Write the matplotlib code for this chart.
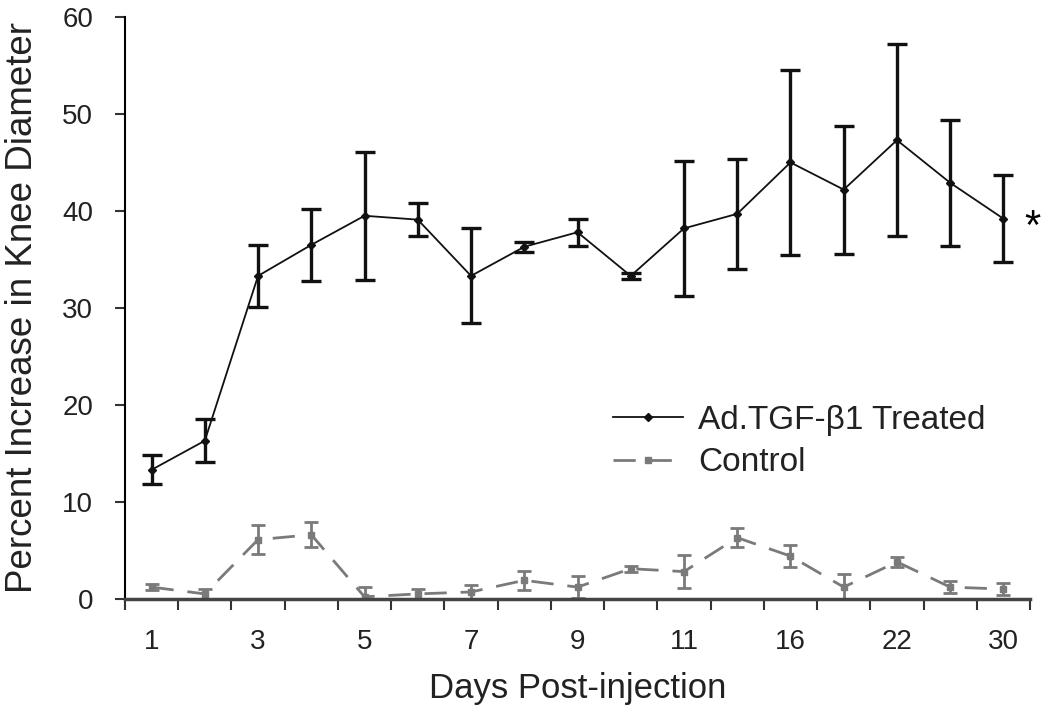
import matplotlib
matplotlib.use("Agg")
import matplotlib.pyplot as plt
import numpy as np

days = ["1", "2", "3", "4", "5", "6", "7", "8", "9", "10", "11", "14", "16", "18", "22", "25", "30"]
treated = [13.3, 16.3, 33.3, 36.5, 39.5, 39.1, 33.3, 36.3, 37.8, 33.3, 38.2, 39.7, 45.0, 42.2, 47.3, 42.9, 39.2]
treated_err = [1.5, 2.2, 3.2, 3.7, 6.6, 1.7, 4.9, 0.5, 1.4, 0.3, 7.0, 5.7, 9.5, 6.6, 9.9, 6.5, 4.5]
control = [1.2, 0.5, 6.1, 6.6, 0.2, 0.5, 0.7, 1.9, 1.2, 3.1, 2.8, 6.3, 4.4, 1.2, 3.8, 1.2, 1.0]
control_err = [0.3, 0.5, 1.5, 1.3, 1.0, 0.5, 0.7, 1.0, 1.1, 0.3, 1.7, 1.0, 1.1, 1.4, 0.5, 0.6, 0.6]
yticks = [0, 10, 20, 30, 40, 50, 60]

plt.rcParams['font.family'] = ['Liberation Sans', 'DejaVu Sans']

fig = plt.figure(figsize=(10.5, 7.24), dpi=100)
ax = fig.add_axes([0.119, 0.173, 0.862, 0.8035])

x = np.arange(1, len(days) + 1)

tr = ax.errorbar(x, treated, yerr=treated_err, color='#111111', lw=1.3, marker='D', ms=4,
                 elinewidth=2.4, capsize=7, capthick=2.4, zorder=3)
cl = ax.errorbar(x, control, yerr=control_err, color='#7a7a7a', lw=2.0, marker='s', ms=5,
                 elinewidth=2.0, capsize=5, capthick=2.0, zorder=2)
cl[0].set_dashes([8, 5])

ax.set_xlim(0.5, len(days) + 0.5)
ax.set_ylim(0, 60)
ax.set_yticks(yticks)
ax.set_xticks(np.arange(0.5, len(days) + 1, 1.0))
ax.set_xticklabels([])
ax.set_xticks(x[::2], minor=True)
ax.set_xticklabels(days[::2], minor=True)
ax.tick_params(axis='x', which='major', direction='out', length=8, width=1.5, color='#333333')
ax.tick_params(axis='x', which='minor', length=0, pad=22, labelsize=20, labelcolor='#222222')
ax.tick_params(axis='y', direction='out', length=7, width=1.5, labelsize=20, pad=16,
               color='#333333', labelcolor='#222222')

for s in ['top', 'right']:
    ax.spines[s].set_visible(False)
ax.spines['left'].set_linewidth(1.5)
ax.spines['bottom'].set_linewidth(2.5)
ax.spines['bottom'].set_color('#444444')

ax.set_xlabel('Days Post-injection', fontsize=25, labelpad=12, color='#222222')
ax.set_ylabel('Percent Increase in Knee Diameter', fontsize=26.5, labelpad=16, color='#222222')

ax.text(len(days) + 0.4, treated[-1] - 1.0, '*', fontsize=30, ha='left', va='center', clip_on=False)

leg = ax.legend(handles=[tr[0], cl[0]], labels=['Ad.TGF-\u03b21 Treated', 'Control'],
                loc='upper left', bbox_to_anchor=(0.506, 0.385), frameon=False, fontsize=24,
                handlelength=2.1, handletextpad=0.45, labelspacing=0.35)
for t in leg.get_texts():
    t.set_color('#222222')

fig.savefig('out.png', dpi=100)
